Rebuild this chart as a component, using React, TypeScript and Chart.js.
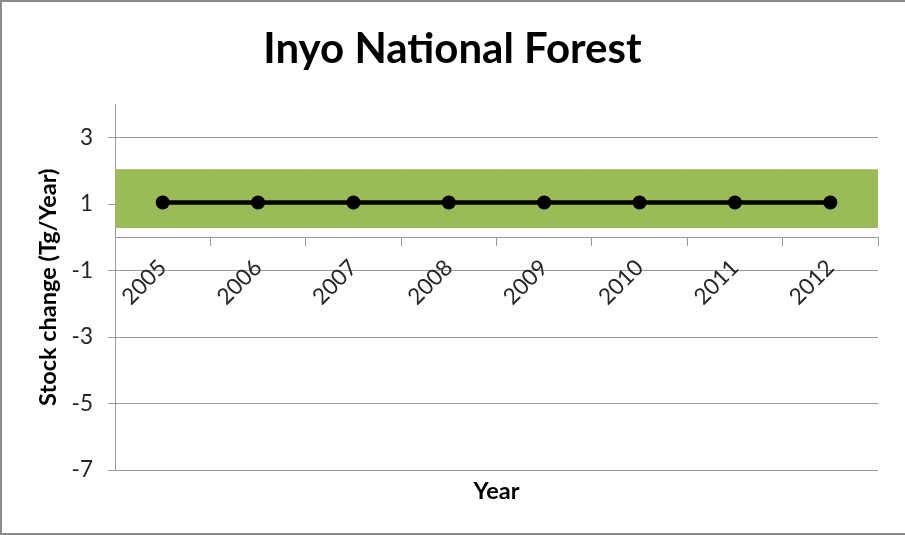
import React, { useEffect, useRef } from "react";
import { Chart, registerables } from "chart.js";

Chart.register(...registerables);

const years = ["2005", "2006", "2007", "2008", "2009", "2010", "2011", "2012"];
const stockChange = [1.05, 1.05, 1.05, 1.05, 1.05, 1.05, 1.05, 1.05];
const bandLow = [0.28, 0.28, 0.28, 0.28, 0.28, 0.28, 0.28, 0.28];
const bandHigh = [2.05, 2.05, 2.05, 2.05, 2.05, 2.05, 2.05, 2.05];
const yTicks = [-7, -5, -3, -1, 1, 3];
const yMin = -7;
const yMax = 4;

const FONT = "Lato, 'Liberation Sans', sans-serif";
const GRID = "#9a9a9a";
const TEXT = "#262626";

export default function App() {
  const canvasRef = useRef<HTMLCanvasElement | null>(null);

  useEffect(() => {
    const canvas = canvasRef.current;
    if (!canvas) return;
    const chart = new Chart(canvas, {
      type: "line",
      data: {
        labels: years,
        datasets: [
          {
            type: "line",
            label: "Stock change",
            data: stockChange,
            borderColor: "#000000",
            backgroundColor: "#000000",
            borderWidth: 4.5,
            pointRadius: 7,
            pointBackgroundColor: "#000000",
            pointBorderColor: "#000000",
            pointBorderWidth: 0,
            order: 0,
          },
          {
            type: "bar",
            label: "Range",
            data: years.map((_, i) => [bandLow[i], bandHigh[i]]),
            backgroundColor: "#9bbb59",
            borderWidth: 0,
            barPercentage: 1,
            categoryPercentage: 1.012,
            order: 1,
          } as any,
        ],
      },
      options: {
        animation: false,
        responsive: false,
        maintainAspectRatio: false,
        events: [],
        layout: { padding: { left: 0, right: 0, top: 0, bottom: 0 } },
        plugins: {
          legend: { display: false },
          tooltip: { enabled: false },
          title: {
            display: true,
            text: "Inyo National Forest",
            color: "#000000",
            font: { family: FONT, size: 42, weight: "bold" },
            padding: { top: 24.5, bottom: 29.5 },
          },
        },
        scales: {
          x: {
            type: "category",
            position: { y: 0 } as any,
            offset: true,
            grid: {
              offset: true,
              drawOnChartArea: false,
              drawTicks: true,
              tickLength: 8,
              color: GRID,
            },
            border: { display: true, color: GRID, width: 1 },
            ticks: {
              minRotation: 45,
              maxRotation: 45,
              padding: 9,
              color: TEXT,
              font: { family: FONT, size: 22.5 },
            },
            afterFit: (s: any) => {
              s.height = 0;
            },
          },
          x2: {
            type: "category",
            position: "bottom",
            labels: years,
            offset: true,
            grid: { display: false },
            border: { display: false },
            ticks: { display: false },
            title: {
              display: true,
              text: "Year",
              color: "#000000",
              font: { family: FONT, size: 23.5, weight: "bold" },
              padding: { top: 0, bottom: 29 },
            },
            afterFit: (s: any) => {
              s.height = 65;
            },
          },
          y: {
            type: "linear",
            min: yMin,
            max: yMax,
            afterBuildTicks: (s: any) => {
              s.ticks = yTicks.map((v) => ({ value: v }));
            },
            grid: {
              color: GRID,
              drawTicks: true,
              tickLength: 7,
            },
            border: { display: true, color: GRID, width: 1 },
            ticks: {
              padding: 15,
              color: TEXT,
              font: { family: FONT, size: 22.5 },
              callback: (v: any) => String(v),
            },
            title: {
              display: true,
              text: "Stock change (Tg/Year)",
              color: "#000000",
              font: { family: FONT, size: 23.5, weight: "bold" },
              padding: { top: 34, bottom: 0 },
            },
            afterFit: (s: any) => {
              s.width = 115;
            },
          },
          yRight: {
            type: "linear",
            position: "right",
            display: true,
            min: yMin,
            max: yMax,
            grid: { display: false, drawOnChartArea: false },
            border: { display: false },
            ticks: { display: false },
            afterFit: (s: any) => {
              s.width = 27;
            },
          },
        },
      },
    });
    return () => chart.destroy();
  }, []);

  return (
    <div style={{ position: "fixed", left: 0, top: 0, width: 905, height: 535, background: "#ffffff" }}>
      <canvas ref={canvasRef} width={905} height={535} style={{ position: "absolute", left: 0, top: 0, width: 905, height: 535 }} />
      <div
        style={{
          position: "absolute",
          left: 0,
          top: 0,
          width: 905,
          height: 535,
          boxSizing: "border-box",
          borderTop: "2px solid #8a8a8a",
          borderLeft: "2px solid #8a8a8a",
          borderBottom: "2px solid #8a8a8a",
          pointerEvents: "none",
        }}
      />
    </div>
  );
}
